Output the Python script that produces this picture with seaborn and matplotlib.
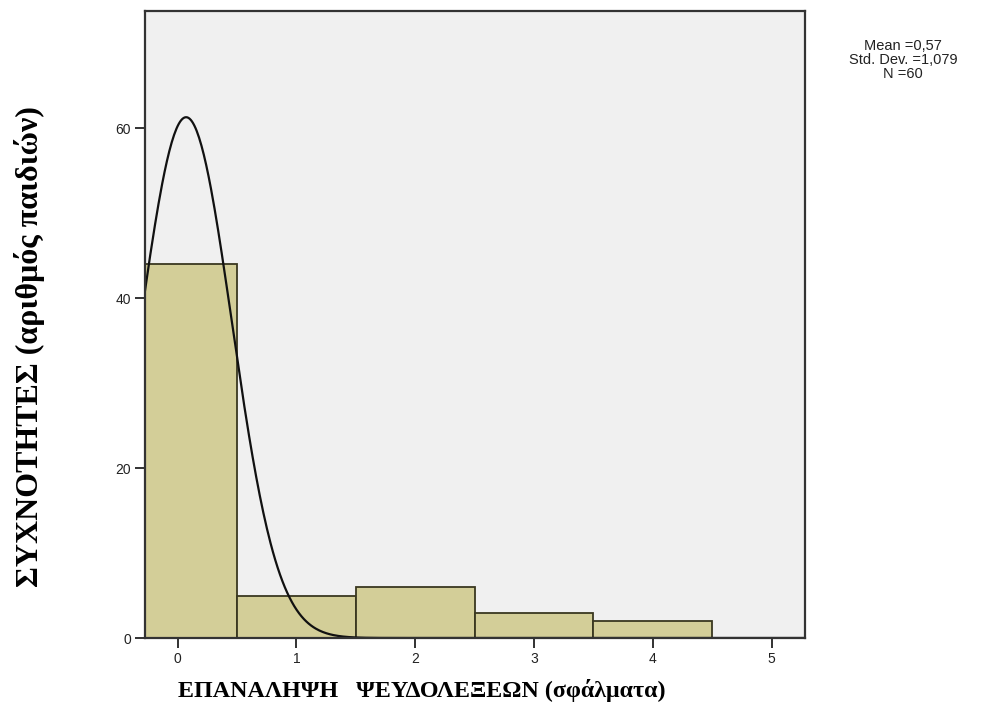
import numpy as np
import pandas as pd
import matplotlib
matplotlib.use("Agg")
import matplotlib.pyplot as plt
import seaborn as sns

# ---- data ----
error_values = [0, 1, 2, 3, 4]          # number of errors (bin centres)
child_counts = [44, 5, 6, 3, 2]         # frequency per bin
x_ticks = [0, 1, 2, 3, 4, 5]
y_ticks = [0, 20, 40, 60]
# normal curve as drawn on the chart (peak height, centre, spread)
curve_peak = 61.3
curve_center = 0.072
curve_sd = 0.385
stats_lines = ["Mean =0,57", "Std. Dev. =1,079", "N =60"]

xlabel = "ΕΠΑΝΑΛΗΨΗ   ΨΕΥΔΟΛΕΞΕΩΝ (σφάλματα)"
ylabel = "ΣΥΧΝΟΤΗΤΕΣ (αριθμός παιδιών)"

sns.set_theme(style="white")
plt.rcParams["font.family"] = ["Liberation Sans", "DejaVu Sans"]

df = pd.DataFrame({"errors": error_values, "count": child_counts})

fig = plt.figure(figsize=(9.88, 7.06), dpi=100)
ax = fig.add_axes([145/988, 1-638/706, (805-145)/988, (638-11)/706])
ax.set_facecolor("#F0F0F0")

sns.histplot(data=df, x="errors", weights="count", discrete=True,
             color="#D3CE98", edgecolor="#3A3820", linewidth=1.3,
             alpha=1.0, ax=ax)

xs = np.linspace(-0.5, 5.5, 600)
ys = curve_peak * np.exp(-0.5 * ((xs - curve_center) / curve_sd) ** 2)
sns.lineplot(x=xs, y=ys, color="#111111", linewidth=1.6, ax=ax)

ax.set_xlim(-0.274, 5.28)
ax.set_ylim(0, 73.8)
ax.set_xticks(x_ticks)
ax.set_yticks(y_ticks)
ax.set_xlabel("")
ax.set_ylabel("")
ax.tick_params(axis="both", direction="out", length=7, width=1.3,
               color="#222222", labelsize=10, labelcolor="#222222",
               bottom=True, left=True, pad=3)
for s in ax.spines.values():
    s.set_color("#333333")
    s.set_linewidth(1.6)

fig.text(422/988, 1-690/706, xlabel, ha="center", va="center",
         fontsize=17.3, fontweight="bold", color="black",
         family=["Liberation Serif", "DejaVu Serif"])
fig.text(30/988, 1-347/706, ylabel, ha="center", va="center",
         rotation=90, fontsize=23, fontweight="bold", color="black",
         family=["Liberation Serif", "DejaVu Serif"])
fig.text(903/988, 1-60/706, "\n".join(stats_lines), ha="center", va="center",
         fontsize=10.5, color="#222222", linespacing=1.0,
         family=["Liberation Sans", "DejaVu Sans"])

fig.savefig("out.png", dpi=100, facecolor="white")
